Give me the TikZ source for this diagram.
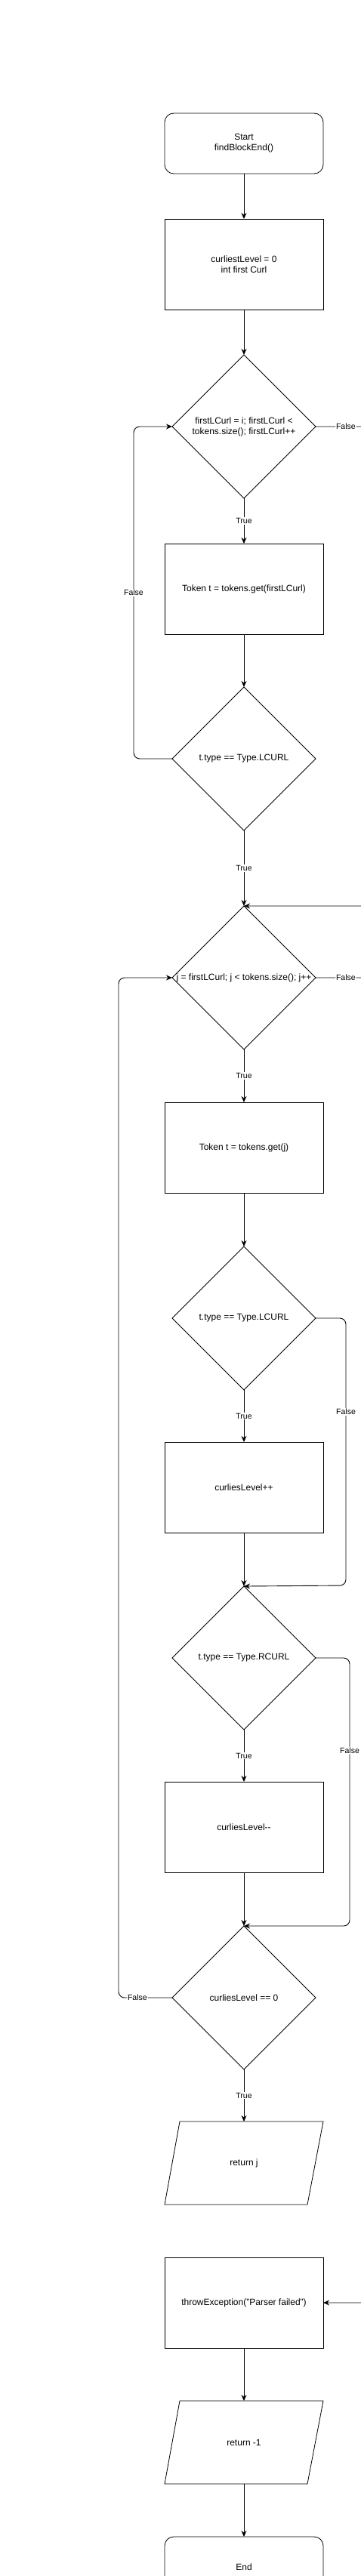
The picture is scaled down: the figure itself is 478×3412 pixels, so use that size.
\documentclass[tikz,border=0pt]{standalone}
\usepackage{fontspec}
\setmainfont{Liberation Sans}
\usetikzlibrary{shapes.geometric,arrows.meta,calc}
\begin{document}
\begin{tikzpicture}[x=1pt,y=-1pt,
  every node/.style={font=\fontsize{12}{14}\selectfont, inner sep=0pt, outer sep=0pt},
  box/.style={draw, line width=0.8pt, minimum width=210pt, minimum height=120pt, align=center},
  term/.style={box, rounded corners=12pt, minimum height=80pt},
  dec/.style={draw, diamond, line width=0.8pt, minimum width=190pt, minimum height=190pt, aspect=1},
  io/.style={minimum width=210pt, minimum height=110pt, align=center},
  ioshape/.style={line width=0.8pt},
  txt/.style={align=center},
  arr/.style={draw, line width=0.9pt, -{Stealth[length=8pt,width=7pt,inset=2.5pt]}},
  lab/.style={fill=white, font=\fontsize{10.5}{12}\selectfont, inner sep=1pt},
]
\useasboundingbox (0,0) rectangle (478,3412);
\clip (0,0) rectangle (478,3412);

% nodes
\node[term] (start) at (323,190) {Start\\findBlockEnd()};
\node[box] (b1) at (323,350) {curliestLevel = 0\\int first Curl};
\node[dec] (d1) at (323,565) {};
\node[txt] (d1t) at (d1) {firstLCurl = i; firstLCurl <\\tokens.size(); firstLCurl++};
\node[box] (b2) at (323,780) {Token t = tokens.get(firstLCurl)};
\node[dec] (d2) at (323,1005) {};
\node[txt] (d2t) at (d2) {t.type == Type.LCURL};
\node[dec] (d3) at (323,1295) {};
\node[txt] (d3t) at (d3) {j = firstLCurl; j < tokens.size(); j++};
\node[box] (b3) at (323,1520) {Token t = tokens.get(j)};
\node[dec] (d4) at (323,1746) {};
\node[txt] (d4t) at (d4) {t.type == Type.LCURL};
\node[box] (b4) at (323,1970) {curliesLevel++};
\node[dec] (d5) at (323,2196) {};
\node[txt] (d5t) at (d5) {t.type == Type.RCURL};
\node[box] (b5) at (323,2420) {curliesLevel-{}-};
\node[dec] (d6) at (323,2646) {};
\node[txt] (d6t) at (d6) {curliesLevel == 0};
\node[io] (p1) at (323,2865) {return j};
\draw[ioshape] ([xshift=20pt]p1.north west) -- (p1.north east) -- ([xshift=-21pt]p1.south east) -- (p1.south west) -- cycle;
\node[box] (thr) at (323,3050) {throwException("Parser failed")};
\node[io] (p2) at (323,3235) {return -1};
\draw[ioshape] ([xshift=20pt]p2.north west) -- (p2.north east) -- ([xshift=-21pt]p2.south east) -- (p2.south west) -- cycle;
\node[term] (end) at (323,3400) {End};

% straight connectors
\draw[arr] (start) -- (b1);
\draw[arr] (b1) -- (d1);
\draw[arr] (d1) -- node[lab]{True} (b2);
\draw[arr] (b2) -- (d2);
\draw[arr] (d2) -- node[lab]{True} (d3);
\draw[arr] (d3) -- node[lab]{True} (b3);
\draw[arr] (b3) -- (d4);
\draw[arr] (d4) -- node[lab]{True} (b4);
\draw[arr] (b4) -- (d5);
\draw[arr] (d5) -- node[lab]{True} (b5);
\draw[arr] (b5) -- (d6);
\draw[arr] (d6) -- node[lab]{True} (p1.north);
\draw[arr] (thr) -- (p2.north);
\draw[arr] (p2.south) -- (end);

% loops and branches
\draw[arr, rounded corners=8pt] (d2.west) -- ++(-51,0) -- node[lab]{False} ++(0,-440) -- (d1.west);
\draw[arr, rounded corners=8pt] (d6.west) -- node[lab,pos=0.65]{False} ++(-71,0) |- (d3.west);
\draw[arr, rounded corners=8pt] (d4.east) -- ++(40,0) -- node[lab,pos=0.35]{False} ++(0,354) -- (d5.north);
\draw[arr, rounded corners=8pt] (d5.east) -- ++(45,0) -- node[lab,pos=0.345]{False} ++(0,355) -- (d6.north);
\draw[arr, rounded corners=8pt] (d1.east) -- node[lab,pos=0.48]{False} ++(83,0) |- (d3.north);
\draw[arr, rounded corners=8pt] (d3.east) -- node[lab,pos=0.48]{False} ++(83,0) |- (thr.east);
\end{tikzpicture}
\end{document}
